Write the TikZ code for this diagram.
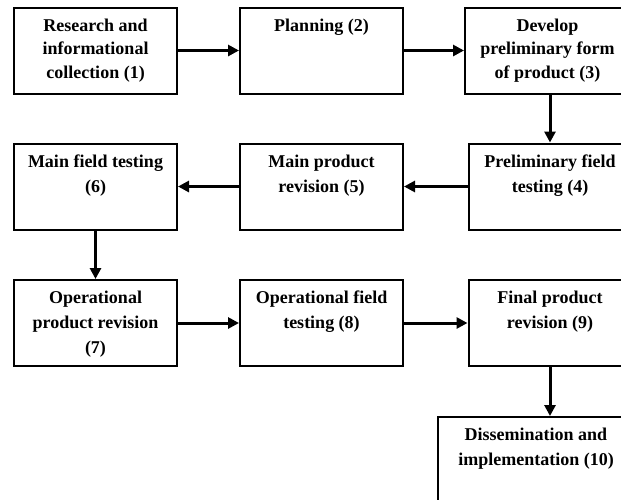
\documentclass[tikz,border=0pt]{standalone}
\usepackage{fontspec}
\setmainfont{Liberation Serif}
\usetikzlibrary{arrows.meta}
\begin{document}
\begin{tikzpicture}[x=1pt,y=-1pt,
  stagebox/.style={draw=black, line width=2pt, inner sep=0pt, minimum width=#1, minimum height=86pt},
  stagebox/.default=163pt,
  stagetext/.style={anchor=north, inner sep=0pt, align=center,
    font=\fontsize{18}{23.5}\selectfont\bfseries},
  widetext/.style={stagetext, font=\fontsize{18}{25}\selectfont\bfseries},
  flow/.style={line width=3pt, -{Triangle[length=11pt,width=11pt]}}]
  \useasboundingbox (0,0) rectangle (621,499);
  \clip (0,0) rectangle (621,499);
  % row 1
  \node[stagebox] (b1) at (95.5,50.5) {};
  \node[stagebox] (b2) at (321.5,50.5) {};
  \node[stagebox=165pt] (b3) at (547.5,50.5) {};
  % row 2
  \node[stagebox] (b4) at (550,186.5) {};
  \node[stagebox] (b5) at (321.5,186.5) {};
  \node[stagebox] (b6) at (95.5,186.5) {};
  % row 3
  \node[stagebox] (b7) at (95.5,323) {};
  \node[stagebox] (b8) at (321.5,323) {};
  \node[stagebox] (b9) at (550,323) {};
  % final stage
  \node[stagebox=196pt, minimum height=96pt] (b10) at (536,465) {};
  % labels, set from the top edge of each box
  \node[stagetext] (t1) at ([yshift=-12pt]b1.north) {Research and\\informational\\collection (1)};
  \node[stagetext] (t2) at ([yshift=-12pt]b2.north) {Planning (2)};
  \node[stagetext] (t3) at ([yshift=-12pt]b3.north) {Develop\\preliminary form\\of product (3)};
  \node[widetext] (t4) at ([yshift=-12pt]b4.north) {Preliminary field\\testing (4)};
  \node[widetext] (t5) at ([yshift=-12pt]b5.north) {Main product\\revision (5)};
  \node[widetext] (t6) at ([yshift=-12pt]b6.north) {Main field testing\\(6)};
  \node[widetext] (t7) at ([yshift=-12pt]b7.north) {Operational\\product revision\\(7)};
  \node[widetext] (t8) at ([yshift=-12pt]b8.north) {Operational field\\testing (8)};
  \node[widetext] (t9) at ([yshift=-12pt]b9.north) {Final product\\revision (9)};
  \node[widetext] (t10) at ([yshift=-12pt]b10.north) {Dissemination and\\implementation (10)};
  % connectors
  \draw[flow] (b1.east) -- (b2.west);
  \draw[flow] (b2.east) -- (b3.west);
  \draw[flow] (b4.north |- b3.south) -- (b4.north);
  \draw[flow] (b4.west) -- (b5.east);
  \draw[flow] (b5.west) -- (b6.east);
  \draw[flow] (b6.south) -- (b7.north);
  \draw[flow] (b7.east) -- (b8.west);
  \draw[flow] (b8.east) -- (b9.west);
  \draw[flow] (b9.south) -- (b9.south |- b10.north);
\end{tikzpicture}
\end{document}
